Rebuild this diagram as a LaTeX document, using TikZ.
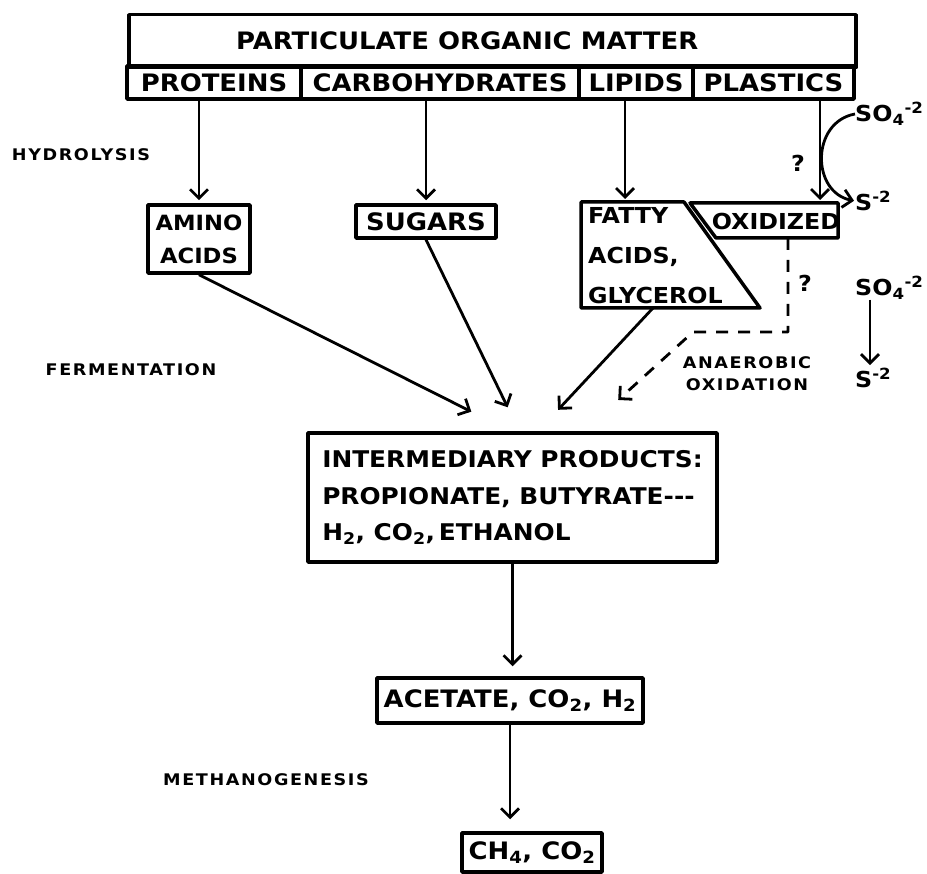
\documentclass[tikz,border=0pt]{standalone}
\usepackage{fontspec}
\setmainfont{DejaVu Sans}[FakeStretch=1.08]
\newfontfamily\stagefont{DejaVu Sans}[FakeStretch=1.1,LetterSpace=10]
\usetikzlibrary{arrows.meta}
\newcommand{\boxtext}{\fontsize{24}{33}\selectfont\bfseries}
\newcommand{\midtext}{\fontsize{23}{36.5}\selectfont\bfseries}
\newcommand{\fattext}{\fontsize{22}{40}\selectfont\bfseries}
\newcommand{\stagetext}{\stagefont\fontsize{16}{22}\selectfont\bfseries}

\begin{document}
\begin{tikzpicture}[
        x=1pt, y=-1pt,
        line join=round,
        box/.style={draw, line width=3.5pt, inner sep=0pt, font=\boxtext},
        cell/.style={box, minimum height=33pt},
        outline/.style={line width=3.5pt},
        plain/.style={inner sep=0pt, font=\boxtext},
        stage/.style={inner sep=0pt, font=\stagetext, align=center},
        arr/.style={line width=2.8pt, -{Straight Barb[length=9pt,width=18pt]}, shorten >=3pt},
        dasharr/.style={arr, dash pattern=on 12pt off 10pt},
    ]
    \useasboundingbox (0,0) rectangle (927,874);
    \node[box, anchor=north west, minimum width=727pt, minimum height=53pt,
        label={[xshift=-25pt, font=\boxtext]center:PARTICULATE ORGANIC MATTER}] (pom) at (127,13) {};
    \node[cell, minimum width=174pt] (prot) at (214,82.5) {PROTEINS};
    \node[cell, minimum width=278pt] (carb) at (440,82.5) {CARBOHYDRATES};
    \node[cell, minimum width=114pt] (lip) at (636,82.5) {LIPIDS};
    \node[cell, minimum width=161pt] (plas) at (773.5,82.5) {PLASTICS};

    \node[stage] (hyd) at (81,155) {HYDROLYSIS};
    \node[box, minimum width=102pt, minimum height=68pt, align=center,
        font=\fontsize{21}{33}\selectfont\bfseries] (amino) at (199,239) {AMINO\\ACIDS};
    \node[box, minimum width=140pt, minimum height=33pt] (sugars) at (426,221.5) {SUGARS};
    \draw[outline] (581,202) -- (684,202) -- (760,308) -- (581,308) -- cycle;
    \node[plain, font=\fattext, align=left, anchor=west] (fatty) at (588,256) {FATTY\\ACIDS,\\GLYCEROL};
    \draw[outline] (690,203) -- (838,203) -- (838,238) -- (716,238) -- cycle;
    \node[plain, font=\fattext] (oxid) at (776,221) {OXIDIZED};
    \coordinate (fat) at (625,202);
    \coordinate (oxt) at (820,203);
    \draw[arr] (prot.south -| amino.north) -- (amino.north);
    \draw[arr] (carb.south -| sugars.north) -- (sugars.north);
    \draw[arr] (lip.south -| fat) -- (fat);
    \draw[arr] (plas.south -| oxt) -- (oxt);

    \node[plain, font=\fattext] (q1) at (798,163) {?};
    \node[plain, font=\fattext, anchor=west] (so4a) at (855,114) {SO\textsubscript{4}\textsuperscript{-2}};
    \node[plain, font=\fattext, anchor=west] (s2a) at (855,201) {S\textsuperscript{-2}};
    \draw[arr, shorten >=1pt] (so4a.west) .. controls (811,122) and (811,192) .. (s2a.west);

    \node[stage] (ferm) at (131,370) {FERMENTATION};
    \node[box, minimum width=409pt, minimum height=129pt, align=left, font=\midtext] (inter) at (512.5,497.5)
        {INTERMEDIARY PRODUCTS:\\PROPIONATE, BUTYRATE-\kern0pt-\kern0pt-\\H\textsubscript{2}, CO\textsubscript{2},\,ETHANOL};
    \coordinate (fab) at (653,308);
    \coordinate (oxb) at (788,238);
    \coordinate (dc) at (693,332);
    \coordinate (t1) at (474,413);
    \coordinate (t2) at (509,410);
    \coordinate (t3) at (556,412);
    \coordinate (t4) at (616,402);
    \draw[arr] (amino.south) -- (t1);
    \draw[arr] (sugars.south) -- (t2);
    \draw[arr] (fab) -- (t3);
    \draw[dasharr] (oxb) |- (dc) -- (t4);
    \node[plain, font=\fattext] (q2) at (805,283) {?};
    \node[stage] (anox) at (747,374) {ANAEROBIC\\OXIDATION};
    \node[plain, font=\fattext, anchor=west] (so4b) at (855,288) {SO\textsubscript{4}\textsuperscript{-2}};
    \node[plain, font=\fattext, anchor=west] (s2b) at (855,378) {S\textsuperscript{-2}};
    \draw[arr] ([xshift=15pt]so4b.south west) -- ([xshift=15pt]s2b.north west);

    \node[box, minimum width=266pt, minimum height=45pt] (acet) at (510,700.5) {ACETATE, CO\textsubscript{2}, H\textsubscript{2}};
    \node[stage] (meth) at (266,780) {METHANOGENESIS};
    \node[box, minimum width=140pt, minimum height=39pt] (ch4) at (532,852.5) {CH\textsubscript{4}, CO\textsubscript{2}};
    \draw[arr, shorten >=10pt] (inter.south) -- (inter.south |- acet.north);
    \draw[arr, shorten >=12pt] (acet.south) -- (acet.south |- ch4.north);
\end{tikzpicture}
\end{document}
